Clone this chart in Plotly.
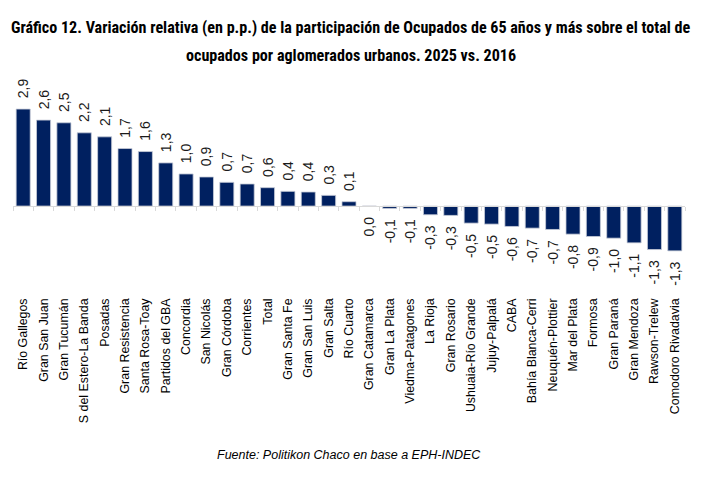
import plotly.graph_objects as go

categories = [
    "Río Gallegos", "Gran San Juan", "Gran Tucumán", "S del Estero-La Banda", "Posadas",
    "Gran Resistencia", "Santa Rosa-Toay", "Partidos del GBA", "Concordia", "San Nicolás",
    "Gran Córdoba", "Corrientes", "Total", "Gran Santa Fe", "Gran San Luis", "Gran Salta",
    "Río Cuarto", "Gran Catamarca", "Gran La Plata", "Viedma-Patagones", "La Rioja",
    "Gran Rosario", "Ushuaia-Río Grande", "Jujuy-Palpalá", "CABA", "Bahía Blanca-Cerri",
    "Neuquén-Plottier", "Mar del Plata", "Formosa", "Gran Paraná", "Gran Mendoza",
    "Rawson-Trelew", "Comodoro Rivadavia",
]
values = [
    2.90, 2.57, 2.49, 2.19, 2.07, 1.72, 1.63, 1.29, 0.96, 0.87, 0.71, 0.66, 0.55,
    0.44, 0.42, 0.32, 0.13, -0.004, -0.07, -0.07, -0.26, -0.28, -0.51, -0.54, -0.61,
    -0.66, -0.70, -0.84, -0.91, -0.96, -1.10, -1.30, -1.34,
]

title_l1 = "Gráfico 12. Variación relativa (en p.p.) de la participación de Ocupados de 65 años y más sobre el total de"
title_l2 = "ocupados por aglomerados urbanos. 2025 vs. 2016"
source = "Fuente: Politikon Chaco en base a EPH-INDEC"

W, H = 717, 485
M_T, M_B, M_L, M_R = 85, 195, 13, 32
Y_MIN, Y_MAX = -2.51, 3.62
plot_h = H - M_T - M_B


def ypx(px):
    return 1 + (M_T - px) / plot_h


def xpx(px):
    return (px - M_L) / (W - M_L - M_R)


def fmt(v):
    s = f"{v:.1f}"
    if s == "-0.0":
        s = "0.0"
    s = s.replace(".", ",")
    pad = "\u00a0\u00a0"
    # rotated text: leading pad sits next to a positive bar, trailing pad next to a negative one
    return pad + s if v > 0 else s + pad


labels = [fmt(v) for v in values]
zero_pos = (0 - Y_MIN) / (Y_MAX - Y_MIN)

BAR = "#002060"
GRID = "#d9d9d9"
TITLE_FONT = "Liberation Sans Narrow, Roboto Condensed, Liberation Sans, Arial"
BODY_FONT = "Liberation Sans, Arial, sans-serif"

fig = go.Figure()
fig.add_trace(go.Bar(
    x=categories, y=values, text=labels,
    marker=dict(color=BAR, line=dict(color="#c8cdd8", width=0.8)),
    textposition="outside", textangle=-90,
    textfont=dict(family=BODY_FONT, size=14, color="#1a1a1a"),
    cliponaxis=False, constraintext="none", showlegend=False,
    hoverinfo="x+y",
))
# invisible trace to carry the zero-line axis with boundary ticks
fig.add_trace(go.Bar(
    x=categories, y=values, xaxis="x2", opacity=0, showlegend=False,
    hoverinfo="skip",
))

fig.update_layout(
    width=W, height=H,
    margin=dict(l=M_L, r=M_R, t=M_T, b=M_B, pad=0),
    paper_bgcolor="white", plot_bgcolor="white",
    bargap=0.31,
    font=dict(family=BODY_FONT, color="#000000"),
    xaxis=dict(
        type="category", categoryorder="array", categoryarray=categories,
        range=[-0.5, len(categories) - 0.5],
        tickangle=-90, ticks="", showline=False, showgrid=False,
        ticklabelstandoff=5,
        tickfont=dict(family=BODY_FONT, size=12.4, color="#000000"),
    ),
    xaxis2=dict(
        type="category", categoryorder="array", categoryarray=categories,
        range=[-0.5, len(categories) - 0.5],
        overlaying="x", anchor="free", position=zero_pos, side="bottom",
        showline=True, linecolor=GRID, linewidth=1,
        ticks="outside", ticklen=4, tickcolor=GRID, tickwidth=1,
        tickson="boundaries", showticklabels=False, showgrid=False,
    ),
    yaxis=dict(
        range=[Y_MIN, Y_MAX], visible=False, showgrid=False, zeroline=False,
    ),
    annotations=[
        dict(text="<b>" + title_l1 + "</b>", xref="paper", yref="paper",
             x=xpx(351), y=ypx(28), xanchor="center", yanchor="middle",
             showarrow=False, font=dict(family=TITLE_FONT, size=16.1, color="#000000")),
        dict(text="<b>" + title_l2 + "</b>", xref="paper", yref="paper",
             x=xpx(351), y=ypx(55), xanchor="center", yanchor="middle",
             showarrow=False, font=dict(family=TITLE_FONT, size=16.1, color="#000000")),
        dict(text="<i>" + source + "</i>", xref="paper", yref="paper",
             x=xpx(349), y=ypx(455), xanchor="center", yanchor="middle",
             showarrow=False, font=dict(family=BODY_FONT, size=12.5, color="#000000")),
    ],
)

fig.write_html("out.html")
